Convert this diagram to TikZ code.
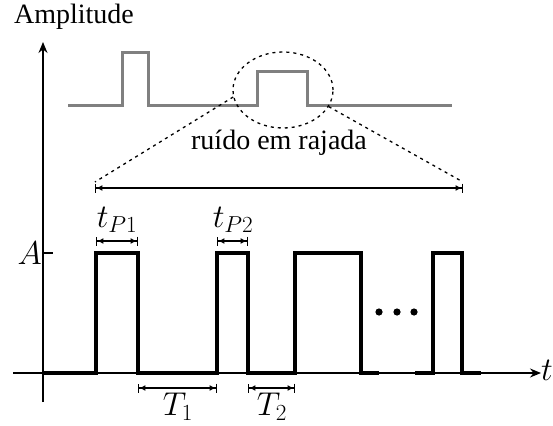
\RequirePackage{fix-cm}
\documentclass[tikz,border=0pt]{standalone}
\usepackage{fontspec}
\setmainfont{Liberation Serif}
\usepackage{amsmath}
\usetikzlibrary{arrows.meta,positioning,shapes.geometric}
\tikzset{
  lbl/.style={font=\fontsize{28}{32}\selectfont, inner sep=0pt},
  mlbl/.style={font=\fontsize{33}{38}\selectfont, inner sep=0pt},
  axis/.style={-{Stealth[length=11pt,width=9pt]}, line width=1.4pt},
  sig/.style={line width=3.4pt, line join=miter},
  gsig/.style={line width=3pt, draw=black!50, line join=miter},
  dim/.style={{Bar[width=9pt]Latex[length=6pt,width=6pt]}-{Latex[length=6pt,width=6pt]Bar[width=9pt]},
              line width=1.4pt},
  dots/.style={dash pattern=on 3pt off 4pt, line width=1.3pt},
}

\begin{document}
\begin{tikzpicture}[x=1pt, y=-1pt]
  \useasboundingbox (0,0) rectangle (553,425);
  % axes
  \coordinate (o) at (43,402);
  \coordinate (ytop) at (43,42);
  \coordinate (xl) at (13,373);
  \coordinate (xr) at (541,373);
  \draw[axis] (o) -- (ytop);
  \draw[axis] (xl) -- (xr);
  \node[lbl] (amp) at (74,17) {Amplitude};
  \node[mlbl, anchor=east] (t) at (553,370) {$t$};
  \draw[line width=1.4pt] (43,253) coordinate (tk) -- (53,253);
  \node[mlbl, left=1pt of tk] (A) {$A$};
  % pulses
  \draw[sig] (43,373) -- (96,373) -- (96,253) -- (138,253) -- (138,373)
    -- (217,373) -- (217,253) -- (248,253) -- (248,373) -- (295,373)
    -- (295,253) -- (361,253) -- (361,373) -- (379,373);
  \draw[sig] (415,373) -- (433,373) -- (433,253) -- (462,253) -- (462,373)
    -- (481,373);
  \foreach \x in {379,397,414}
    \fill (\x,312) circle (3.6pt);
  % widths
  \draw[dim] (96,241) coordinate (p1a) -- (138,241) coordinate (p1b);
  \node[mlbl] (tp1) at (117,220) {$t_{P1}$};
  \draw[dim] (217,241) coordinate (p2a) -- (248,241) coordinate (p2b);
  \node[mlbl] (tp2) at (233,220) {$t_{P2}$};
  \draw[dim] (138,388) coordinate (q1a) -- (217,388) coordinate (q1b);
  \node[mlbl] (T1) at (178,407) {$T_1$};
  \draw[dim] (248,388) coordinate (q2a) -- (295,388) coordinate (q2b);
  \node[mlbl] (T2) at (272,407) {$T_2$};
  % burst
  \draw[gsig] (68,105) -- (122,105) -- (122,53) -- (148,53) -- (148,105)
    -- (257,105) -- (257,72) -- (307,72) -- (307,105) -- (452,105);
  \node[ellipse, draw, dots, minimum width=100pt, minimum height=76pt,
        inner sep=0pt] (el) at (283,90) {};
  \coordinate (bl) at (95,182);
  \coordinate (br) at (463,182);
  \draw[dots] (el.188) -- (bl);
  \draw[dots] (el.-20) -- (br);
  \draw[dim] (95,188) -- (463,188);
  \node[lbl] (rr) at (279,143) {ruído em rajada};
\end{tikzpicture}
\end{document}
